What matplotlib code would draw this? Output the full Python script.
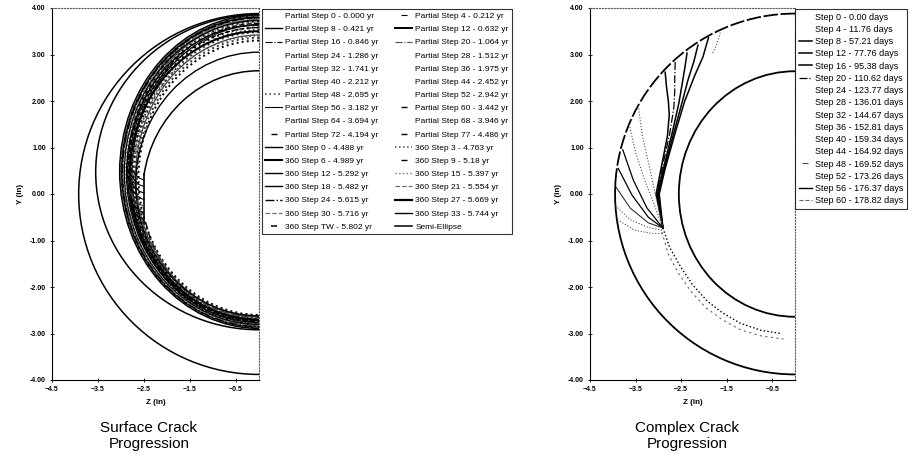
import matplotlib.pyplot as plt
from matplotlib.patches import Arc
from matplotlib.lines import Line2D
from matplotlib.ticker import FormatStrFormatter

plt.rcParams['font.family'] = ['Liberation Sans', 'DejaVu Sans']

# axis ticks ######################################################################################
X_TICKS = [-4.5, -3.5, -2.5, -1.5, -0.5]
Y_TICKS = [-4, -3, -2, -1, 0, 1, 2, 3, 4]

# surface crack (left chart) ######################################################################
PARTIAL_STEPS = [0, 4, 8, 12, 16, 20, 24, 28, 32, 36, 40, 44, 48, 52, 56, 60, 64, 68, 72, 77]
PARTIAL_YR = [0.000, 0.212, 0.421, 0.632, 0.846, 1.064, 1.286, 1.512, 1.741, 1.975,
              2.212, 2.452, 2.695, 2.942, 3.182, 3.442, 3.694, 3.946, 4.194, 4.486]
RING_STEPS = ['0', '3', '6', '9', '12', '15', '18', '21', '24', '27', '30', '33', 'TW']
RING_YR = [4.488, 4.763, 4.989, 5.18, 5.292, 5.397, 5.482, 5.554, 5.615, 5.669, 5.716, 5.744, 5.802]

# partial step 0: initial flaw on the inner wall
FLAW_Z = [-2.50, -2.50]
FLAW_Y = [0.42, -0.62]
INNER_A = 2.53
INNER_B = 2.65
INNER_UPPER = [90, 171]          # degrees
INNER_LOWER = [194, 270]

# partial steps 4..28: short fronts leaving the flaw
SCALLOP_Z = [-2.50, -2.60, -2.71, -2.82]
SCALLOP_Y = [[0.30, 0.34, 0.44, 0.62],
             [0.16, 0.20, 0.30, 0.48],
             [0.02, 0.06, 0.16, 0.34],
             [-0.12, -0.08, 0.02, 0.20],
             [-0.26, -0.22, -0.12, 0.06],
             [-0.40, -0.36, -0.26, -0.08],
             [-0.54, -0.50, -0.40, -0.22]]

# partial steps 32..77: fronts around the wall (top y, bottom y at Z=0, depth)
PARTIAL_TOP = [3.30, 3.36, 3.42, 3.48, 3.53, 3.58, 3.63, 3.67, 3.71, 3.75, 3.79, 3.83]
PARTIAL_BOT = [-2.60, -2.62, -2.64, -2.66, -2.68, -2.70, -2.72, -2.74, -2.76, -2.78, -2.80, -2.82]
PARTIAL_A = [2.62, 2.65, 2.68, 2.70, 2.72, 2.74, 2.76, 2.78, 2.80, 2.82, 2.84, 2.86]

# 360 steps
RING_TOP = [3.05, 3.40, 3.50, 3.58, 3.64, 3.69, 3.73, 3.76, 3.79, 3.81, 3.83, 3.85, 3.86]
RING_BOT = [-2.62, -2.66, -2.70, -2.73, -2.76, -2.79, -2.81, -2.83, -2.85, -2.87, -2.88, -2.89, -2.92]
RING_A = [2.68, 2.76, 2.81, 2.85, 2.88, 2.91, 2.93, 2.95, 2.97, 2.99, 3.01, 3.03, 3.55]

SEMI_A = 3.92
SEMI_B = 3.88

# complex crack (right chart) #####################################################################
COMPLEX_STEPS = [0, 4, 8, 12, 16, 20, 24, 28, 32, 36, 40, 44, 48, 52, 56, 60]
COMPLEX_DAYS = [0.00, 11.76, 57.21, 77.76, 95.38, 110.62, 123.77, 136.01,
                144.67, 152.81, 159.34, 164.92, 169.52, 173.26, 176.37, 178.82]

OUTER_A = 3.95
OUTER_B = 3.88
OUTER_SPLIT = 175                # degrees, step 0 front runs from the top down to here
PIPE_IN_A = 2.55
PIPE_IN_B = 2.64

# fronts for steps 4..60
FRONT_Z = [[-1.64, -1.72, -1.82],
           [-1.90, -2.02, -2.20, -2.42, -2.62, -2.85, -2.98, -2.90],
           [-2.13, -2.22, -2.35, -2.47, -2.66, -2.88, -3.00, -2.90],
           [-2.37, -2.42, -2.48, -2.55, -2.70, -2.90, -3.02, -2.90],
           [-2.63, -2.64, -2.64, -2.66, -2.75, -2.93, -3.03, -2.90],
           [-2.85, -2.82, -2.78, -2.76, -2.80, -2.95, -3.05, -2.90],
           [-3.44, -3.36, -3.20, -3.10, -2.90],
           [-3.64, -3.50, -3.30, -3.10, -2.90],
           [-3.78, -3.55, -3.25, -2.90],
           [-3.88, -3.58, -3.22, -2.90],
           [-3.93, -3.62, -3.22, -2.90],
           [-3.94, -3.62, -3.22, -2.90],
           [-3.90, -3.52, -3.12, -2.90],
           [-2.90, -2.75, -2.52, -2.25, -1.93, -1.60, -1.20, -0.75, -0.32],
           [-2.92, -2.78, -2.55, -2.28, -1.95, -1.60, -1.20, -0.75, -0.25]]
FRONT_Y = [[3.47, 3.22, 3.00],
           [3.36, 2.95, 2.55, 2.00, 1.35, 0.55, 0.00, -0.73],
           [3.20, 2.85, 2.45, 2.00, 1.32, 0.50, 0.00, -0.73],
           [3.03, 2.70, 2.35, 1.95, 1.30, 0.50, 0.00, -0.73],
           [2.84, 2.50, 2.20, 1.85, 1.30, 0.50, 0.00, -0.73],
           [2.62, 2.30, 2.00, 1.70, 1.25, 0.50, 0.00, -0.73],
           [1.90, 1.30, 0.60, 0.15, -0.73],
           [1.50, 0.90, 0.30, -0.20, -0.73],
           [0.95, 0.30, -0.30, -0.73],
           [0.55, -0.02, -0.50, -0.73],
           [0.15, -0.30, -0.62, -0.73],
           [-0.25, -0.55, -0.72, -0.78],
           [-0.55, -0.78, -0.85, -0.85],
           [-0.73, -1.15, -1.55, -1.95, -2.30, -2.55, -2.78, -2.93, -3.00],
           [-0.82, -1.30, -1.72, -2.10, -2.45, -2.70, -2.92, -3.05, -3.12]]

# styles (plot linestyle, legend symbol, width, colour) ###########################################
SURF_STYLE = [(':', 'none', 1.0, 'k'), (':', 'mark', 0.8, 'k'),
              ('-', '-', 1.0, 'k'), ('-', '-', 1.4, 'k'),
              ('-.', '-.', 0.8, 'k'), ('-.', '-.', 0.8, '0.3'),
              (':', 'none', 1.0, 'k'), (':', 'none', 1.0, 'k'),
              (':', 'none', 1.4, 'k'), (':', 'none', 1.4, '0.2'),
              ('-', 'none', 0.9, '0.25'), (':', 'none', 1.4, '0.2'),
              (':', ':', 1.2, '0.3'), (':', 'none', 1.4, 'k'),
              ('-', '-', 0.8, 'k'), ('--', 'mark', 1.0, 'k'),
              (':', 'none', 1.4, 'k'), ('-', 'none', 0.9, '0.2'),
              ('--', 'mark', 1.0, 'k'), ('--', 'mark', 1.0, 'k'),
              ('-', '-', 1.0, 'k'), (':', ':', 1.1, '0.3'),
              ('-', '-', 1.5, 'k'), ('--', 'mark', 1.0, 'k'),
              ('-', '-', 1.0, 'k'), (':', ':', 1.0, '0.45'),
              ('-', '-', 1.0, 'k'), ('--', '--', 0.9, '0.45'),
              ('-.', '-.', 1.0, 'k'), ('-', '-', 1.6, 'k'),
              ('--', '--', 0.9, '0.45'), ('-', '-', 1.0, 'k'),
              ('-', 'mark', 1.1, 'k'), ('-', '-', 1.1, 'k')]

COMPLEX_STYLE = [((0, (8, 1.5)), 'none', 1.3, 'k'), (':', 'none', 0.8, '0.3'),
                 ('-', '-', 1.1, 'k'), ('-', '-', 1.1, 'k'),
                 ('-', '-', 1.1, 'k'), ('-.', '-.', 0.9, 'k'),
                 ('-', 'none', 1.1, 'k'), (':', 'none', 0.8, '0.3'),
                 (':', 'none', 0.8, '0.3'), ('-', 'none', 0.9, 'k'),
                 ('-', 'none', 0.9, 'k'), ('-', 'none', 0.8, '0.2'),
                 (':', 'mark', 0.8, '0.3'), (':', 'none', 0.8, '0.3'),
                 (':', '-', 1.0, 'k'), ((0, (2, 3)), '--', 0.8, '0.4')]


def legend_handle(sym, lw, color):
    if sym == 'none':
        return Line2D([], [], ls='none')
    if sym == 'mark':
        return Line2D([], [], ls='none', marker='_', ms=4, mew=lw, color=color)
    return Line2D([], [], ls=sym, lw=lw, color=color)


def front_arc(ax, top, bot, a, theta, style):
    ls, sym, lw, color = style
    ax.add_patch(Arc((0, (top + bot) / 2), 2 * a, top - bot, theta1=theta[0], theta2=theta[1],
                     ls=ls, lw=lw, color=color))


def style_axes(ax):
    ax.set_xlim(-4.5, 0)
    ax.set_ylim(-4, 4)
    ax.set_xticks(X_TICKS)
    ax.set_yticks(Y_TICKS)
    ax.yaxis.set_major_formatter(FormatStrFormatter('%.2f'))
    ax.tick_params(labelsize=5, direction='inout', length=3, width=0.6, pad=3)
    for lab in ax.get_xticklabels() + ax.get_yticklabels():
        lab.set_fontweight('bold')
    ax.set_xlabel('Z (in)', fontsize=5.8, fontweight='bold', labelpad=4)
    ax.set_ylabel('Y (in)', fontsize=5.8, fontweight='bold', labelpad=4)
    for side in ('top', 'right'):
        ax.spines[side].set_linestyle(':')
        ax.spines[side].set_color('0.35')
        ax.spines[side].set_linewidth(0.8)
    for side in ('left', 'bottom'):
        ax.spines[side].set_linewidth(0.8)


###################################################################################################
def main():
    fig = plt.figure(figsize=(9.18, 4.55), dpi=100)
    ax1 = fig.add_axes([52 / 918, 75 / 455, 207 / 918, 372 / 455])
    ax2 = fig.add_axes([590 / 918, 75 / 455, 205 / 918, 372 / 455])

    # ---- surface crack ----
    surf_labels = ['Partial Step %d - %.3f yr' % (s, t) for s, t in zip(PARTIAL_STEPS, PARTIAL_YR)]
    surf_labels += ['360 Step %s - %g yr' % (s, t) for s, t in zip(RING_STEPS, RING_YR)]
    surf_labels += ['Semi-Ellipse']

    st = SURF_STYLE
    # step 0: inner wall + flaw
    ax1.add_patch(Arc((0, 0), 2 * INNER_A, 2 * INNER_B, theta1=INNER_UPPER[0], theta2=INNER_UPPER[1],
                      lw=1.1, color='k'))
    ax1.add_patch(Arc((0, 0), 2 * INNER_A, 2 * INNER_B, theta1=INNER_LOWER[0], theta2=INNER_LOWER[1],
                      lw=1.0, color='k', ls=(0, (5, 3))))
    ax1.plot(FLAW_Z, FLAW_Y, color='k', lw=1.2)

    for i, ys in enumerate(SCALLOP_Y):
        ls, sym, lw, color = st[1 + i]
        ax1.plot(SCALLOP_Z, ys, ls='-', lw=0.8, color=color)

    for i in range(len(PARTIAL_TOP)):
        front_arc(ax1, PARTIAL_TOP[i], PARTIAL_BOT[i], PARTIAL_A[i], [90, 270], st[8 + i])

    for i in range(len(RING_TOP)):
        front_arc(ax1, RING_TOP[i], RING_BOT[i], RING_A[i], [90, 270], st[20 + i])

    front_arc(ax1, SEMI_B, -SEMI_B, SEMI_A, [90, 270], st[33])

    handles = [legend_handle(s[1], s[2], s[3]) for s in st]
    order = list(range(0, 34, 2)) + list(range(1, 34, 2))
    leg1 = fig.legend([handles[k] for k in order], [surf_labels[k] for k in order],
                      loc='upper left', bbox_to_anchor=(262 / 918, 1 - 9 / 455), ncol=2,
                      fontsize=6.0, frameon=True, fancybox=False, edgecolor='k',
                      handlelength=2.0, handletextpad=0.4, columnspacing=2.0,
                      labelspacing=0.64, borderpad=0.4, borderaxespad=0)
    leg1.get_frame().set_linewidth(0.8)

    style_axes(ax1)

    # ---- complex crack ----
    cx_labels = ['Step %d - %.2f days' % (s, d) for s, d in zip(COMPLEX_STEPS, COMPLEX_DAYS)]
    cs = COMPLEX_STYLE

    ax2.add_patch(Arc((0, 0), 2 * OUTER_A, 2 * OUTER_B, theta1=OUTER_SPLIT, theta2=270, lw=1.3, color='k'))
    ax2.add_patch(Arc((0, 0), 2 * PIPE_IN_A, 2 * PIPE_IN_B, theta1=90, theta2=270, lw=1.3, color='k'))
    front_arc(ax2, OUTER_B, -OUTER_B, OUTER_A, [90, OUTER_SPLIT], cs[0])

    for i in range(len(FRONT_Z)):
        ls, sym, lw, color = cs[1 + i]
        ax2.plot(FRONT_Z[i], FRONT_Y[i], ls=ls, lw=lw, color=color)

    handles2 = [legend_handle(s[1], s[2], s[3]) for s in cs]
    leg2 = fig.legend(handles2, cx_labels, loc='upper left', bbox_to_anchor=(795 / 918, 1 - 9 / 455),
                      fontsize=6.5, frameon=True, fancybox=False, edgecolor='k',
                      handlelength=1.5, handletextpad=0.3, labelspacing=0.36,
                      borderpad=0.4, borderaxespad=0)
    leg2.get_frame().set_linewidth(0.8)

    style_axes(ax2)

    # captions
    fig.text(149 / 918, 1 - 436 / 455, 'Surface Crack\nProgression', ha='center', va='center',
             fontsize=11, linespacing=1.25)
    fig.text(687 / 918, 1 - 436 / 455, 'Complex Crack\nProgression', ha='center', va='center',
             fontsize=11, linespacing=1.25)

    fig.savefig('out.png', dpi=100)
    return


###################################################################################################
if __name__ == "__main__":
    main()
